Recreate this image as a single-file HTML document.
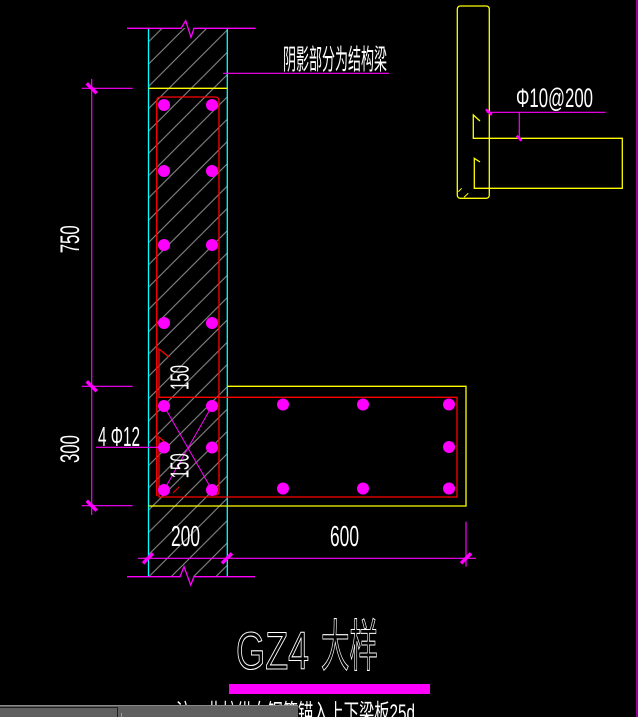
<!DOCTYPE html>
<html><head><meta charset="utf-8"><style>
html,body{margin:0;padding:0;background:#000;overflow:hidden}
svg{display:block}
.t{font-family:"Liberation Sans","Noto Sans CJK SC",sans-serif;fill:#fff}
.o{font-family:"Liberation Sans","Noto Sans CJK SC",sans-serif;fill:none;stroke:#fff;stroke-width:1.1}
</style></head><body>
<svg width="638" height="717" viewBox="0 0 638 717" xmlns="http://www.w3.org/2000/svg">
<defs>
<pattern id="h" patternUnits="userSpaceOnUse" x="12" y="0" width="22.3" height="22.3">
<line x1="0" y1="22.3" x2="22.3" y2="0" stroke="#8f8f8f" stroke-width="1"/>
<line x1="-2" y1="2" x2="2" y2="-2" stroke="#8f8f8f" stroke-width="1"/>
<line x1="20.3" y1="24.3" x2="24.3" y2="20.3" stroke="#8f8f8f" stroke-width="1"/>
</pattern>
</defs>
<rect width="638" height="717" fill="#000"/>
<rect x="148" y="28" width="79" height="548" fill="url(#h)"/>

<line x1="148.5" y1="28" x2="148.5" y2="577" stroke="#00ffff" stroke-width="1.3"/>
<line x1="227.3" y1="28" x2="227.3" y2="577" stroke="#00ffff" stroke-width="1.3"/>

<polyline points="127,28.3 181,28.3 185.7,20.7 191,37.3 194,28.3 255.7,28.3" fill="none" stroke="#ff00ff" stroke-width="1.3"/>
<polyline points="127,576.7 180,576.7 184,566.7 190.7,585 194,576.7 255,576.7" fill="none" stroke="#ff00ff" stroke-width="1.3"/>

<line x1="148.5" y1="88.3" x2="227.3" y2="88.3" stroke="#ffff00" stroke-width="1.3"/>

<line x1="223" y1="73.3" x2="389" y2="73.3" stroke="#ff00ff" stroke-width="1.2"/>
<text class="t" x="283" y="69" font-size="28" textLength="104" lengthAdjust="spacingAndGlyphs">阴影部分为结构梁</text>

<polyline points="227.3,386.3 466,386.3 466,506 148.5,506" fill="none" stroke="#ffff00" stroke-width="1.3"/>

<path d="M156.7,496 L156.7,101 Q156.7,97 160.7,97 L215,97 Q219,97 219,101 L219,491 Q219,495 215,495" fill="none" stroke="#ff0000" stroke-width="1.3"/>
<polyline points="169,357 159,349 159,397.3 457,397.3 457,497 159,497 159,437 167,444" fill="none" stroke="#ff0000" stroke-width="1.3"/>
<line x1="173" y1="493" x2="179" y2="487" stroke="#ff0000" stroke-width="1"/>

<line x1="164" y1="406" x2="212" y2="490" stroke="#ff00ff" stroke-width="1"/>
<line x1="212" y1="406" x2="164" y2="490" stroke="#ff00ff" stroke-width="1"/>
<line x1="96" y1="447.3" x2="164" y2="447.3" stroke="#ff00ff" stroke-width="1.2"/>

<g fill="#ff00ff">
<circle cx="164" cy="105" r="6"/><circle cx="212" cy="105" r="6"/>
<circle cx="164" cy="171" r="6"/><circle cx="212" cy="171" r="6"/>
<circle cx="164" cy="245" r="6"/><circle cx="212" cy="245" r="6"/>
<circle cx="164" cy="323" r="6"/><circle cx="212" cy="323" r="6"/>
<circle cx="164" cy="406" r="6"/><circle cx="212" cy="406" r="6"/>
<circle cx="164" cy="447.5" r="6"/><circle cx="212" cy="447.5" r="6"/>
<circle cx="164" cy="490" r="6"/><circle cx="212" cy="490" r="6"/>
<circle cx="283" cy="404.5" r="6"/><circle cx="363" cy="404.5" r="6"/><circle cx="449" cy="404.5" r="6"/>
<circle cx="449" cy="447" r="6"/>
<circle cx="283" cy="488.5" r="6"/><circle cx="363" cy="488.5" r="6"/><circle cx="449" cy="488.5" r="6"/>
</g>

<text class="t" transform="translate(188.3,390) rotate(-90)" font-size="26" textLength="25" lengthAdjust="spacingAndGlyphs">150</text>
<text class="t" transform="translate(188.3,478.3) rotate(-90)" font-size="26" textLength="25" lengthAdjust="spacingAndGlyphs">150</text>

<line x1="91.7" y1="79" x2="91.7" y2="515" stroke="#ff00ff" stroke-width="1.2"/>
<line x1="81.7" y1="88.3" x2="132.7" y2="88.3" stroke="#ff00ff" stroke-width="1.2"/>
<line x1="81.7" y1="386.3" x2="132.7" y2="386.3" stroke="#ff00ff" stroke-width="1.2"/>
<line x1="81.7" y1="505.7" x2="132.7" y2="505.7" stroke="#ff00ff" stroke-width="1.2"/>
<g stroke="#ff00ff" stroke-width="3.5" stroke-linecap="butt">
<line x1="86.7" y1="83.3" x2="96.7" y2="93.3"/>
<line x1="86.7" y1="381.3" x2="96.7" y2="391.3"/>
<line x1="86.7" y1="500.7" x2="96.7" y2="510.7"/>
<line x1="143" y1="563.3" x2="153" y2="553.3"/>
<line x1="222" y1="563.3" x2="232" y2="553.3"/>
<line x1="461" y1="563.3" x2="471" y2="553.3"/>
</g>
<text class="t" transform="translate(79,253.3) rotate(-90)" font-size="27" textLength="28" lengthAdjust="spacingAndGlyphs">750</text>
<text class="t" transform="translate(79,463) rotate(-90)" font-size="27" textLength="28" lengthAdjust="spacingAndGlyphs">300</text>
<text class="t" x="98" y="446" font-size="28" textLength="42" lengthAdjust="spacingAndGlyphs">4 Φ12</text>

<line x1="138" y1="558.3" x2="476" y2="558.3" stroke="#ff00ff" stroke-width="1.2"/>
<line x1="466" y1="521.7" x2="466" y2="566.7" stroke="#ff00ff" stroke-width="1.2"/>
<text class="t" x="171" y="546" font-size="29" textLength="29" lengthAdjust="spacingAndGlyphs">200</text>
<text class="t" x="330" y="546" font-size="29" textLength="29" lengthAdjust="spacingAndGlyphs">600</text>

<rect x="457.3" y="6" width="32" height="192.3" rx="3" ry="3" fill="none" stroke="#ffff00" stroke-width="1.3"/>
<polyline points="480,121 473.3,115 473.3,138.3 622.3,138.3 622.3,188.3 474.3,188.3 474.3,158.3 480,162" fill="none" stroke="#ffff00" stroke-width="1.3"/>
<line x1="458.3" y1="191.7" x2="461.7" y2="188.3" stroke="#ffff00" stroke-width="1"/>
<line x1="464" y1="197.3" x2="468.3" y2="193.3" stroke="#ffff00" stroke-width="1"/>
<line x1="486.7" y1="112.3" x2="605.7" y2="112.3" stroke="#ff00ff" stroke-width="1.2"/>
<line x1="519.3" y1="112.3" x2="519.3" y2="138.3" stroke="#ff00ff" stroke-width="1.2"/>
<line x1="486" y1="109.3" x2="491.7" y2="114.8" stroke="#ff00ff" stroke-width="2.5"/>
<line x1="516.7" y1="135.8" x2="521.5" y2="140.8" stroke="#ff00ff" stroke-width="2.5"/>
<text class="t" x="516" y="107" font-size="27" textLength="77" lengthAdjust="spacingAndGlyphs">Φ10@200</text>

<text class="o" x="236" y="669" font-size="53" textLength="73" lengthAdjust="spacingAndGlyphs">GZ4</text>
<text class="o" x="321" y="666" font-size="56" textLength="57" lengthAdjust="spacingAndGlyphs">大样</text>
<rect x="229" y="684" width="201" height="10" fill="#ff00ff"/>
<text class="t" x="176" y="721" font-size="24" textLength="239" lengthAdjust="spacingAndGlyphs">注：此柱纵向钢筋锚入上下梁板25d</text>

<line x1="637" y1="0" x2="637" y2="717" stroke="#ff00ff" stroke-width="1.2"/>

<rect x="0" y="705" width="298" height="12" fill="#606060"/>
<line x1="0" y1="705.5" x2="298" y2="705.5" stroke="#8a8a8a" stroke-width="1"/>
<polyline points="0,707.5 117.5,707.5 117.5,717" fill="none" stroke="#202020" stroke-width="1"/>
<line x1="121.5" y1="713" x2="121.5" y2="717" stroke="#9a9a9a" stroke-width="1"/>
</svg>
</body></html>
